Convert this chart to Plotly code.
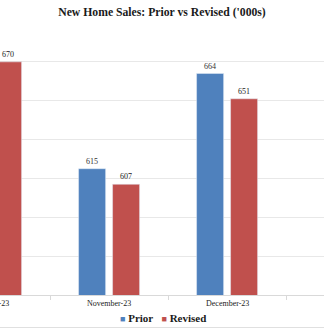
import plotly.graph_objects as go

categories = ["October-23", "November-23", "December-23"]
prior = [None, 615, 664]
revised = [670, 607, 651]
series_names = ["Prior", "Revised"]
title_text = "New Home Sales: Prior vs Revised ('000s)"

BLUE = "#4F81BD"
RED = "#C0504D"
SERIF = "Liberation Serif, Times New Roman, serif"

x = list(range(len(categories)))
XR = [0.076, 0.076 + 324 / 118]

fig = go.Figure()
fig.add_trace(go.Bar(
    x=x, y=prior, name=series_names[0], marker=dict(color=BLUE),
    width=0.229, offset=-0.258,
    text=[("" if v is None else str(v)) for v in prior],
    textposition="outside", textfont=dict(family=SERIF, size=8, color="#333333"),
    cliponaxis=True, showlegend=False,
))
fig.add_trace(go.Bar(
    x=x, y=revised, name=series_names[1], marker=dict(color=RED),
    width=0.229, offset=0.03,
    text=[str(v) for v in revised],
    textposition="outside", textfont=dict(family=SERIF, size=8, color="#1a1a1a"),
    cliponaxis=True, showlegend=False,
))

annotations = []
for i, c in enumerate(categories):
    annotations.append(dict(
        x=(i - XR[0]) / (XR[1] - XR[0]), xref="paper", y=-0.033, yref="paper",
        yanchor="middle", xanchor="center",
        text=c, showarrow=False,
        font=dict(family=SERIF, size=8, color="#1a1a1a"),
    ))

legend_text = (
    "<span style='color:%s;font-size:9px'>■</span> <b>%s</b>   "
    "<span style='color:%s;font-size:9px'>■</span> <b>%s</b>"
    % (BLUE, series_names[0], RED, series_names[1])
)
annotations.append(dict(
    x=0.503, xref="paper", y=-0.083, yref="paper", xanchor="center", yanchor="middle",
    text=legend_text, showarrow=False,
    font=dict(family=SERIF, size=11, color="#1a1a1a"),
))

fig.update_layout(
    width=324, height=329,
    margin=dict(l=0, r=0, t=23, b=34),
    paper_bgcolor="white", plot_bgcolor="white",
    barmode="overlay",
    title=dict(text="<b>" + title_text + "</b>", x=0.5, xanchor="center",
               y=1 - 12 / 329, yanchor="middle", yref="container",
               font=dict(family=SERIF, size=11.7, color="#1a1a1a")),
    xaxis=dict(range=XR, showticklabels=False,
               showgrid=False, zeroline=False, showline=True, linecolor="#d9d9d9",
               linewidth=1, tickvals=[],
               minor=dict(tick0=0.5, dtick=1, ticks="outside", ticklen=4,
                          tickcolor="#d9d9d9", showgrid=False)),
    yaxis=dict(range=[550, 690], dtick=20, tick0=550, showticklabels=False,
               showgrid=True, gridcolor="#e8e8e8", gridwidth=1, zeroline=False),
    annotations=annotations,
    shapes=[dict(type="line", xref="paper", yref="paper", x0=0, x1=1,
                 y0=(295 - 327.5) / 272, y1=(295 - 327.5) / 272,
                 line=dict(color="#e0e0e0", width=1))],
    showlegend=False,
)

fig.write_html("out.html")
